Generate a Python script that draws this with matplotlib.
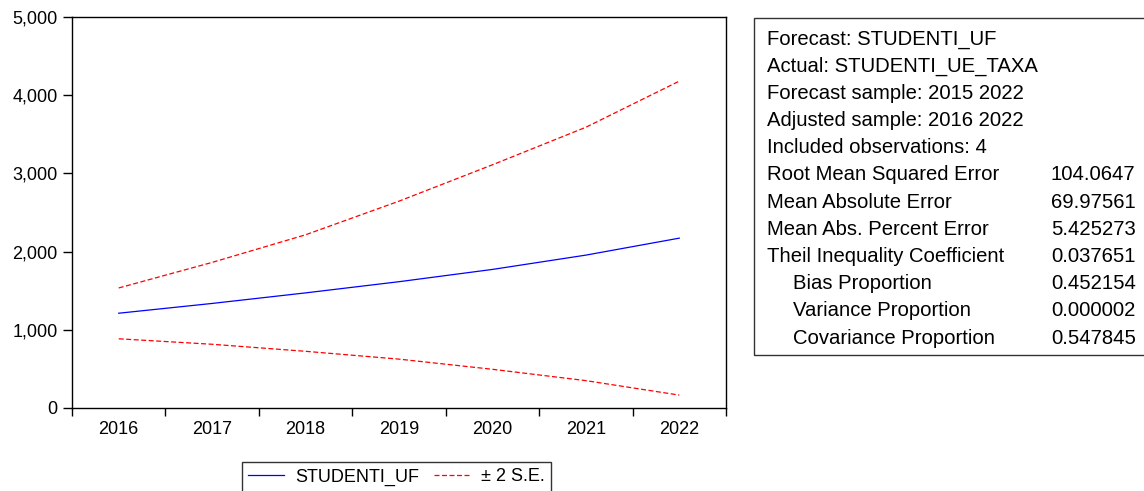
import matplotlib
matplotlib.use("Agg")
import matplotlib.pyplot as plt
from matplotlib.patches import Rectangle
from matplotlib.ticker import FuncFormatter

plt.rcParams['font.family'] = ['Liberation Sans', 'DejaVu Sans']

years = ["2016", "2017", "2018", "2019", "2020", "2021", "2022"]
forecast = [1212, 1337, 1472, 1615, 1772, 1955, 2172]
upper = [1535, 1862, 2215, 2645, 3110, 3590, 4180]
lower = [885, 815, 725, 625, 495, 350, 165]

stats_labels = ["Root Mean Squared Error", "Mean Absolute Error",
                "Mean Abs. Percent Error", "Theil Inequality Coefficient",
                "Bias Proportion", "Variance Proportion", "Covariance Proportion"]
stats_values = ["104.0647", "69.97561", "5.425273", "0.037651",
                "0.452154", "0.000002", "0.547845"]
header_lines = ["Forecast: STUDENTI_UF", "Actual: STUDENTI_UE_TAXA",
                "Forecast sample: 2015 2022", "Adjusted sample: 2016 2022",
                "Included observations: 4"]

W, H = 1144, 491
fig = plt.figure(figsize=(W / 100, H / 100), dpi=100)
ax = fig.add_axes([72 / W, 1 - 408 / H, (726 - 72) / W, (408 - 17) / H])

x = list(range(len(years)))
l1, = ax.plot(x, forecast, color='#0000FF', lw=0.9, label='STUDENTI_UF')
l2, = ax.plot(x, upper, color='#FF0000', lw=0.9, ls=(0, (4, 2)), label='± 2 S.E.')
ax.plot(x, lower, color='#FF0000', lw=0.9, ls=(0, (4, 2)))

ax.set_xlim(-0.5, len(years) - 0.5)
ax.set_ylim(0, 5000)
ax.set_yticks([0, 1000, 2000, 3000, 4000, 5000])
ax.yaxis.set_major_formatter(FuncFormatter(lambda v, p: f"{int(v):,}"))
ax.set_xticks([i - 0.5 for i in range(len(years) + 1)])
ax.set_xticklabels([])
ax.set_xticks(x, minor=True)
ax.set_xticklabels(years, minor=True)
ax.tick_params(axis='x', which='major', direction='out', length=6, width=1)
ax.tick_params(axis='x', which='minor', length=0, pad=9, labelsize=13)
ax.tick_params(axis='y', direction='out', length=6.5, width=1, pad=4, labelsize=13)
for s in ax.spines.values():
    s.set_linewidth(1.0)

# legend
fig.legend(handles=[l1, l2], loc='upper left',
           bbox_to_anchor=(242 / W, 1 - 462 / H), ncol=2, frameon=True,
           fancybox=False, edgecolor='black', fontsize=13,
           handlelength=2.0, handletextpad=0.6, columnspacing=0.8,
           borderpad=0.35, borderaxespad=0)

# stats box
fig.patches.append(Rectangle((754 / W, 1 - 355 / H), (1150 - 754) / W, (355 - 17.5) / H,
                             transform=fig.transFigure, fill=False,
                             edgecolor='#333333', lw=1.0))
lines = [(l, None, 767) for l in header_lines]
for i, (lab, val) in enumerate(zip(stats_labels, stats_values)):
    xpos = 793 if i >= 4 else 767
    lines.append((lab, val, xpos))
y0, dy = 44.5, 27.2
fs = 14.6
for i, (lab, val, xpos) in enumerate(lines):
    yy = 1 - (y0 + i * dy) / H
    fig.text(xpos / W, yy, lab, fontsize=fs, va='baseline', ha='left')
    if val is not None:
        fig.text(1051 / W, yy, val, fontsize=fs, va='baseline', ha='left')

fig.savefig("out.png", dpi=100)
